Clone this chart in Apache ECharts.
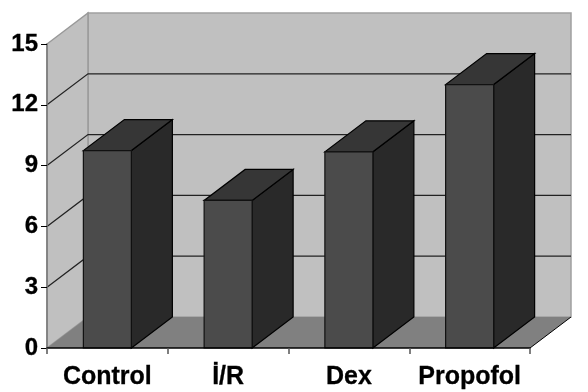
<!DOCTYPE html>
<html><head><meta charset="utf-8">
<style>html,body{margin:0;padding:0;background:#fff}#c{width:588px;height:392px}</style>
<script src="https://cdn.jsdelivr.net/npm/echarts@6/dist/echarts.min.js"></script>
</head><body><div id="c"></div>
<script>
const categories = ['Control', 'İ/R', 'Dex', 'Propofol'];
const values = [9.74, 7.28, 9.68, 13.0];
const yTicks = [3, 6, 9, 12];
const yMax = 15;
const DX = 41, DY = 31, BAR_W = 48;
const chart = echarts.init(document.getElementById('c'), null, {renderer: 'canvas'});
const poly = (points, fill, stroke, lw, z2) => ({type: 'polygon', shape: {points}, z2: z2 || 0,
  style: {fill, stroke: stroke || null, lineWidth: lw || 0}});
chart.setOption({
  animation: false,
  backgroundColor: '#fff',
  grid: {left: 47, right: 58, top: 44, bottom: 44, containLabel: false},
  xAxis: {type: 'category', data: categories,
    axisLine: {lineStyle: {color: '#000', width: 1.5}},
    axisTick: {show: true, length: 6, lineStyle: {color: '#555', width: 1.5}},
    axisLabel: {color: '#000', fontFamily: 'Liberation Sans', fontWeight: 'bold', fontSize: 25, margin: 17, interval: 0,
      textBorderColor: '#000', textBorderWidth: 0.3},
    splitLine: {show: false}, z: 5},
  yAxis: {type: 'value', min: 0, max: yMax, interval: 3,
    axisLine: {show: true, lineStyle: {color: '#777', width: 1.5}},
    axisTick: {show: true, length: 6, lineStyle: {color: '#000', width: 1}},
    axisLabel: {color: '#000', fontFamily: 'Liberation Sans', fontWeight: 'bold', fontSize: 24, margin: 9,
      padding: [4, 0, 0, 0], textBorderColor: '#000', textBorderWidth: 0.3},
    splitLine: {show: false}, z: 5},
  series: [
    {type: 'custom', coordinateSystem: 'cartesian2d', clip: false, silent: true, z: 1,
     data: [[0, 0]], encode: {x: 0, y: 1},
     renderItem(params, api) {
       const x0 = params.coordSys.x, x1 = x0 + params.coordSys.width;
       const yb = api.coord([0, 0])[1], yt = api.coord([0, yMax])[1];
       const children = [
         poly([[x0 + DX, yt - DY], [x1 + DX, yt - DY], [x1 + DX, yb - DY], [x0 + DX, yb - DY]], '#c0c0c0', '#a0a0a0', 1.5),
         poly([[x0, yb], [x0, yt], [x0 + DX, yt - DY], [x0 + DX, yb - DY]], '#c0c0c0', '#999', 1.5),
         poly([[x0, yb], [x1, yb], [x1 + DX, yb - DY], [x0 + DX, yb - DY]], '#808080', null, 0)
       ];
       children.push({type: 'polyline', shape: {points: [[x1, yb], [x1 + DX, yb - DY]]}, style: {fill: null, stroke: '#000', lineWidth: 1}});
       yTicks.forEach(t => {
         const y = api.coord([0, t])[1];
         children.push({type: 'polyline', shape: {points: [[x0, y], [x0 + DX, y - DY], [x1 + DX, y - DY]]},
           style: {fill: null, stroke: '#222', lineWidth: 1.2}});
       });
       return {type: 'group', children};
     }},
    {type: 'custom', coordinateSystem: 'cartesian2d', clip: false, silent: true, z: 3,
     data: values.map((v, i) => [i, v]), encode: {x: 0, y: 1},
     renderItem(params, api) {
       const top = api.coord([api.value(0), api.value(1)]);
       const base = api.coord([api.value(0), 0]);
       const l = top[0] - BAR_W / 2, r = top[0] + BAR_W / 2, t = top[1], b = base[1];
       return {type: 'group', children: [
         poly([[r, b], [r, t], [r + DX, t - DY], [r + DX, b - DY]], '#292929', '#000', 1.2),
         poly([[l, t], [r, t], [r + DX, t - DY], [l + DX, t - DY]], '#363636', '#000', 1.2),
         poly([[l, b], [l, t], [r, t], [r, b]], '#4b4b4b', '#111', 1.2)
       ]};
     }}
  ]
});
</script></body></html>
